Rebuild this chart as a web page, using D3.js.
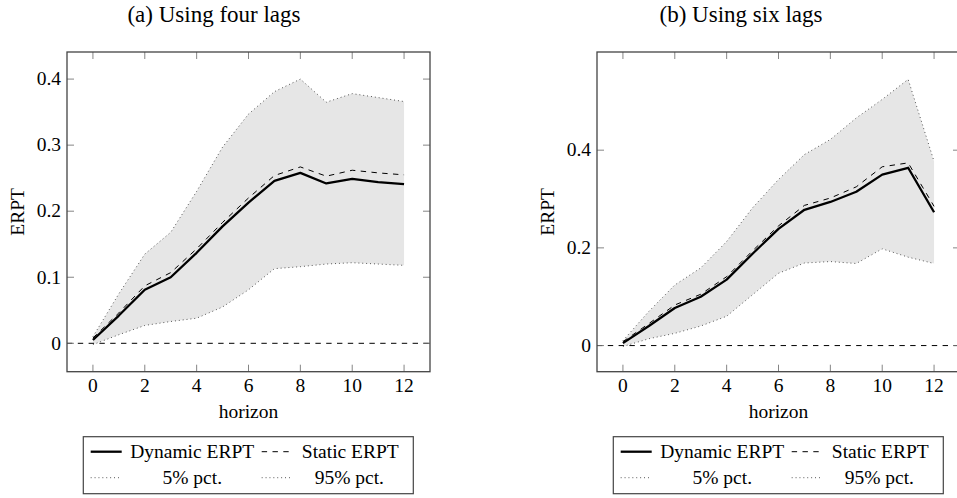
<!DOCTYPE html>
<html>
<head>
<meta charset="utf-8">
<script src="https://cdn.jsdelivr.net/npm/d3@7"></script>
<style>
  body { margin: 0; background: #fff; }
</style>
</head>
<body>
<div class="chart"></div>
<script>
const horizon = [0, 1, 2, 3, 4, 5, 6, 7, 8, 9, 10, 11, 12];
const xTicks = [0, 2, 4, 6, 8, 10, 12];

// (a) four lags
const dynamic4 = [0.005, 0.042, 0.081, 0.100, 0.137, 0.177, 0.213, 0.246, 0.258, 0.242, 0.249, 0.244, 0.241];
const static4 = [0.008, 0.046, 0.087, 0.107, 0.143, 0.183, 0.220, 0.254, 0.267, 0.253, 0.262, 0.258, 0.255];
const lower4 = [-0.002, 0.013, 0.027, 0.033, 0.038, 0.055, 0.081, 0.113, 0.116, 0.120, 0.122, 0.120, 0.118];
const upper4 = [0.010, 0.075, 0.135, 0.168, 0.230, 0.297, 0.347, 0.381, 0.400, 0.365, 0.378, 0.372, 0.366];
const yTicks4 = [0, 0.1, 0.2, 0.3, 0.4];

// (b) six lags
const dynamic6 = [0.005, 0.040, 0.077, 0.100, 0.135, 0.188, 0.239, 0.278, 0.294, 0.315, 0.350, 0.364, 0.273];
const static6 = [0.008, 0.045, 0.083, 0.105, 0.141, 0.194, 0.245, 0.287, 0.302, 0.325, 0.366, 0.374, 0.285];
const lower6 = [-0.002, 0.014, 0.025, 0.040, 0.060, 0.104, 0.148, 0.169, 0.172, 0.168, 0.198, 0.181, 0.168];
const upper6 = [0.010, 0.070, 0.124, 0.159, 0.213, 0.282, 0.340, 0.391, 0.422, 0.466, 0.504, 0.545, 0.377];
const yTicks6 = [0, 0.2, 0.4];

const titles = ['(a) Using four lags', '(b) Using six lags'];
const legendLabels = ['Dynamic ERPT', 'Static ERPT', '5% pct.', '95% pct.'];

const W = 957;
const H = 498;
const fontSize = 19.5;
const serif = 'Liberation Serif';

const svg = d3.select('.chart')
  .append('svg')
  .attr('width', W)
  .attr('height', H);

function addText(sel, size) {
  return sel.append('text')
    .style('font-family', serif)
    .attr('font-size', size || fontSize);
}

function drawPanel(opts) {
  const left = opts.left;
  const right = left + 363;
  const top = 52;
  const bottom = 371.7;

  const xScale = d3.scaleLinear()
    .domain([-1, 13])
    .range([left, right]);
  const yScale = d3.scaleLinear()
    .domain(opts.yDomain)
    .range([bottom, top]);

  const g = svg.append('g');

  // band between the percentiles
  const area = d3.area()
    .x((d, i) => xScale(horizon[i]))
    .y0((d, i) => yScale(opts.lower[i]))
    .y1((d) => yScale(d));

  g.append('path')
    .datum(opts.upper)
    .attr('d', area)
    .attr('fill', '#e6e6e6');

  const line = d3.line()
    .x((d, i) => xScale(horizon[i]));

  [opts.lower, opts.upper].forEach(s => {
    g.append('path')
      .datum(s)
      .attr('d', line.y((d) => yScale(d)))
      .attr('fill', 'none')
      .attr('stroke', '#333')
      .attr('stroke-width', 0.9)
      .attr('stroke-dasharray', '0.9,3');
  });

  // zero line
  g.append('line')
    .attr('x1', left)
    .attr('x2', right)
    .attr('y1', yScale(0))
    .attr('y2', yScale(0))
    .attr('stroke', '#000')
    .attr('stroke-width', 1)
    .attr('stroke-dasharray', '5.4,5.4');

  g.append('path')
    .datum(opts.stat)
    .attr('d', line.y((d) => yScale(d)))
    .attr('fill', 'none')
    .attr('stroke', '#000')
    .attr('stroke-width', 1)
    .attr('stroke-dasharray', '5.4,5.4');

  g.append('path')
    .datum(opts.dynamic)
    .attr('d', line.y((d) => yScale(d)))
    .attr('fill', 'none')
    .attr('stroke', '#000')
    .attr('stroke-width', 2.3)
    .attr('stroke-linejoin', 'round');

  // inward ticks on all four sides
  const tickLen = 7;
  const tickAttrs = (sel) => sel.attr('stroke', '#777').attr('stroke-width', 0.9);

  xTicks.forEach(t => {
    const x = xScale(t);
    g.append('line').attr('x1', x).attr('x2', x).attr('y1', bottom).attr('y2', bottom - tickLen).call(tickAttrs);
    g.append('line').attr('x1', x).attr('x2', x).attr('y1', top).attr('y2', top + tickLen).call(tickAttrs);
    addText(g)
      .attr('x', x)
      .attr('y', bottom + 20)
      .attr('text-anchor', 'middle')
      .text(t);
  });

  opts.yTicks.forEach(t => {
    const y = yScale(t);
    g.append('line').attr('x1', left).attr('x2', left + tickLen).attr('y1', y).attr('y2', y).call(tickAttrs);
    g.append('line').attr('x1', right).attr('x2', right - tickLen).attr('y1', y).attr('y2', y).call(tickAttrs);
    addText(g)
      .attr('x', left - 6)
      .attr('y', y + 6.3)
      .attr('text-anchor', 'end')
      .text(t === 0 ? '0' : d3.format('.1f')(t));
  });

  g.append('rect')
    .attr('x', left)
    .attr('y', top)
    .attr('width', right - left)
    .attr('height', bottom - top)
    .attr('fill', 'none')
    .attr('stroke', '#444')
    .attr('stroke-width', 1.3);

  addText(g)
    .attr('x', (left + right) / 2)
    .attr('y', bottom + 46)
    .attr('text-anchor', 'middle')
    .text('horizon');

  addText(g)
    .attr('transform', `translate(${left - 43}, ${(top + bottom) / 2}) rotate(-90)`)
    .attr('text-anchor', 'middle')
    .text('ERPT');

  addText(g, 23)
    .attr('x', opts.titleX)
    .attr('y', 22)
    .attr('text-anchor', 'middle')
    .text(opts.title);

  // legend
  const bx = left + 16.3;
  const by = 436.7;
  const lg = g.append('g');
  lg.append('rect')
    .attr('x', bx)
    .attr('y', by)
    .attr('width', 330)
    .attr('height', 57)
    .attr('fill', '#fff')
    .attr('stroke', '#444')
    .attr('stroke-width', 1.2);

  const entries = [
    {dx: 7.4, dy: 15, label: legendLabels[0], width: 2.3, dash: null, color: '#000', tx: 108.9, ty: 21.5},
    {dx: 178.4, dy: 15, label: legendLabels[1], width: 1, dash: '5.4,5.4', color: '#000', tx: 267, ty: 21.5},
    {dx: 7.4, dy: 41, label: legendLabels[2], width: 0.9, dash: '0.9,3', color: '#333', tx: 109, ty: 47.6},
    {dx: 178.4, dy: 41, label: legendLabels[3], width: 0.9, dash: '0.9,3', color: '#333', tx: 266, ty: 47.6}
  ];

  entries.forEach(e => {
    lg.append('line')
      .attr('x1', bx + e.dx)
      .attr('x2', bx + e.dx + 31)
      .attr('y1', by + e.dy)
      .attr('y2', by + e.dy)
      .attr('stroke', e.color)
      .attr('stroke-width', e.width)
      .attr('stroke-dasharray', e.dash);
    addText(lg)
      .attr('x', bx + e.tx)
      .attr('y', by + e.ty)
      .attr('text-anchor', 'middle')
      .text(e.label);
  });
}

drawPanel({
  left: 67,
  yDomain: [-0.043, 0.441],
  yTicks: yTicks4,
  dynamic: dynamic4,
  stat: static4,
  lower: lower4,
  upper: upper4,
  title: titles[0],
  titleX: 214
});

drawPanel({
  left: 597,
  yDomain: [-0.0535, 0.601],
  yTicks: yTicks6,
  dynamic: dynamic6,
  stat: static6,
  lower: lower6,
  upper: upper6,
  title: titles[1],
  titleX: 741
});
</script>
</body>
</html>
